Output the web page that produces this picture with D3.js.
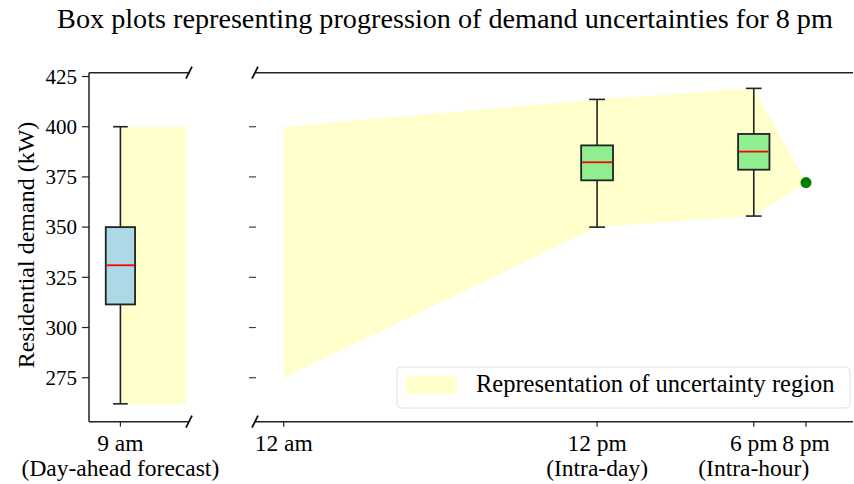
<!DOCTYPE html>
<html>
<head>
<meta charset="utf-8">
<script src="https://cdn.jsdelivr.net/npm/d3@7"></script>
<style>
  body { margin: 0; background: #fff; }
  svg { font-family: "Liberation Serif", "Times New Roman", serif; }
</style>
</head>
<body>
<svg class="chart" width="854" height="484"></svg>
<script>
// box plot values (kW)
var boxHours = [9, 12, 18];
var whiskerLow = [262, 350, 355.5];
var q1 = [311.5, 373.3, 378.6];
var median = [331, 382.3, 387.6];
var q3 = [350, 390.7, 396.4];
var whiskerHigh = [400, 413.6, 419.1];
var boxColors = ["lightblue", "lightgreen", "lightgreen"];

var startHour = 0;
var startRange = [275, 400];
var actualHour = 20;
var actualDemand = 372.2;
var leftRegionHours = [9, 11.5];

var yTicks = [275, 300, 325, 350, 375, 400, 425];
var leftTicks = [9];
var leftTickLabels = [["9 am", "(Day-ahead forecast)"]];
var rightTicks = [0, 12, 18, 20];
var rightTickLabels = [["12 am"], ["12 pm", "(Intra-day)"], ["6 pm", "(Intra-hour)"], ["8 pm"]];

var svg = d3.select(".chart");

var y = d3.scaleLinear().domain([253.1, 426.9]).range([421.7, 72.7]);
var xLeft = d3.scaleLinear().domain([7.8, 11.62]).range([89, 189]);
var xRight = d3.scaleLinear().domain([-1.1, 21.8]).range([255, 853]);
var yTop = y.range()[1], yBottom = y.range()[0];
var regionFill = "#ffffcc";

// title
svg.append("text")
    .attr("x", 445).attr("y", 28)
    .attr("text-anchor", "middle")
    .style("font-size", "28.2px")
    .text("Box plots representing progression of demand uncertainties for 8 pm");

// y label
svg.append("text")
    .attr("transform", "translate(34,245) rotate(-90)")
    .attr("text-anchor", "middle")
    .style("font-size", "24px")
    .text("Residential demand (kW)");

// uncertainty region, left panel
svg.append("rect")
    .attr("x", xLeft(leftRegionHours[0]))
    .attr("width", xLeft(leftRegionHours[1]) - xLeft(leftRegionHours[0]))
    .attr("y", y(whiskerHigh[0]))
    .attr("height", y(whiskerLow[0]) - y(whiskerHigh[0]))
    .attr("fill", regionFill);

// uncertainty region, right panel
var poly = [[startHour, startRange[1]]];
for (var i = 1; i < boxHours.length; i++) poly.push([boxHours[i], whiskerHigh[i]]);
poly.push([actualHour, actualDemand]);
for (var i = boxHours.length - 1; i >= 1; i--) poly.push([boxHours[i], whiskerLow[i]]);
poly.push([startHour, startRange[0]]);

svg.append("path")
    .attr("d", d3.line().x(d => xRight(d[0])).y(d => y(d[1]))(poly) + "Z")
    .attr("fill", regionFill);

// boxes
function drawBox(i, x, w) {
    var g = svg.append("g");
    var cx = x(boxHours[i]);
    var half = (x(boxHours[i] + w / 2) - x(boxHours[i] - w / 2)) / 2;
    g.append("line").attr("x1", cx).attr("x2", cx)
        .attr("y1", y(whiskerHigh[i])).attr("y2", y(q3[i]))
        .attr("stroke", "#222").attr("stroke-width", 1.6);
    g.append("line").attr("x1", cx).attr("x2", cx)
        .attr("y1", y(q1[i])).attr("y2", y(whiskerLow[i]))
        .attr("stroke", "#222").attr("stroke-width", 1.6);
    [whiskerHigh[i], whiskerLow[i]].forEach(v => {
        g.append("line").attr("x1", cx - half / 2).attr("x2", cx + half / 2)
            .attr("y1", y(v)).attr("y2", y(v))
            .attr("stroke", "#222").attr("stroke-width", 1.6);
    });
    g.append("rect")
        .attr("x", cx - half).attr("width", 2 * half)
        .attr("y", y(q3[i])).attr("height", y(q1[i]) - y(q3[i]))
        .attr("fill", boxColors[i]).attr("stroke", "#222").attr("stroke-width", 1.8);
    g.append("line").attr("x1", cx - half + 1).attr("x2", cx + half - 1)
        .attr("y1", y(median[i])).attr("y2", y(median[i]))
        .attr("stroke", "red").attr("stroke-width", 1.8);
}
drawBox(0, xLeft, 1.12);
drawBox(1, xRight, 1.22);
drawBox(2, xRight, 1.2);

svg.append("circle")
    .attr("cx", xRight(actualHour)).attr("cy", y(actualDemand))
    .attr("r", 5.5).attr("fill", "green");

// spines
function hline(x1, x2, yy) {
    svg.append("line").attr("x1", x1).attr("x2", x2).attr("y1", yy).attr("y2", yy)
        .attr("stroke", "#222").attr("stroke-width", 1.5);
}
hline(89, 189, yTop);
hline(89, 189, yBottom);
hline(255, 853, yTop);
hline(255, 853, yBottom);
svg.append("line").attr("x1", 89).attr("x2", 89).attr("y1", yTop).attr("y2", yBottom)
    .attr("stroke", "#222").attr("stroke-width", 1.5);

// y ticks, left panel with labels
yTicks.forEach(t => {
    svg.append("line").attr("x1", 82).attr("x2", 89).attr("y1", y(t)).attr("y2", y(t))
        .attr("stroke", "#222").attr("stroke-width", 1.2);
    svg.append("text").attr("x", 77).attr("y", y(t)).attr("dy", "0.35em")
        .attr("text-anchor", "end").style("font-size", "21px").text(t);
    // right panel has ticks but no labels
    if (t < 425) {
        svg.append("line").attr("x1", 249).attr("x2", 256).attr("y1", y(t)).attr("y2", y(t))
            .attr("stroke", "#444").attr("stroke-width", 1.2);
    }
});

// x ticks
function xTicks(x, ticks, labels) {
    ticks.forEach((t, i) => {
        svg.append("line").attr("x1", x(t)).attr("x2", x(t))
            .attr("y1", yBottom).attr("y2", yBottom + 5)
            .attr("stroke", "#222").attr("stroke-width", 1.2);
        var txt = svg.append("text").attr("x", x(t)).attr("y", 451)
            .attr("text-anchor", "middle").style("font-size", "23.5px");
        labels[i].forEach((s, k) => {
            txt.append("tspan").attr("x", x(t)).attr("dy", k == 0 ? 0 : 25).text(s);
        });
    });
}
xTicks(xLeft, leftTicks, leftTickLabels);
xTicks(xRight, rightTicks, rightTickLabels);

// break marks
[[189, yTop], [189, yBottom], [255, yTop], [255, yBottom]].forEach(p => {
    svg.append("line")
        .attr("x1", p[0] - 3).attr("y1", p[1] + 6)
        .attr("x2", p[0] + 3).attr("y2", p[1] - 6)
        .attr("stroke", "#111").attr("stroke-width", 1.8);
});

// legend
var legend = svg.append("g");
legend.append("rect")
    .attr("x", 397).attr("y", 367).attr("width", 453).attr("height", 41)
    .attr("rx", 4).attr("fill", "white").attr("fill-opacity", 0.8)
    .attr("stroke", "#e0e0e0");
legend.append("rect")
    .attr("x", 406).attr("y", 376).attr("width", 51).attr("height", 18)
    .attr("fill", regionFill);
legend.append("text")
    .attr("x", 476).attr("y", 392)
    .style("font-size", "24.5px")
    .text("Representation of uncertainty region");
</script>
</body>
</html>
